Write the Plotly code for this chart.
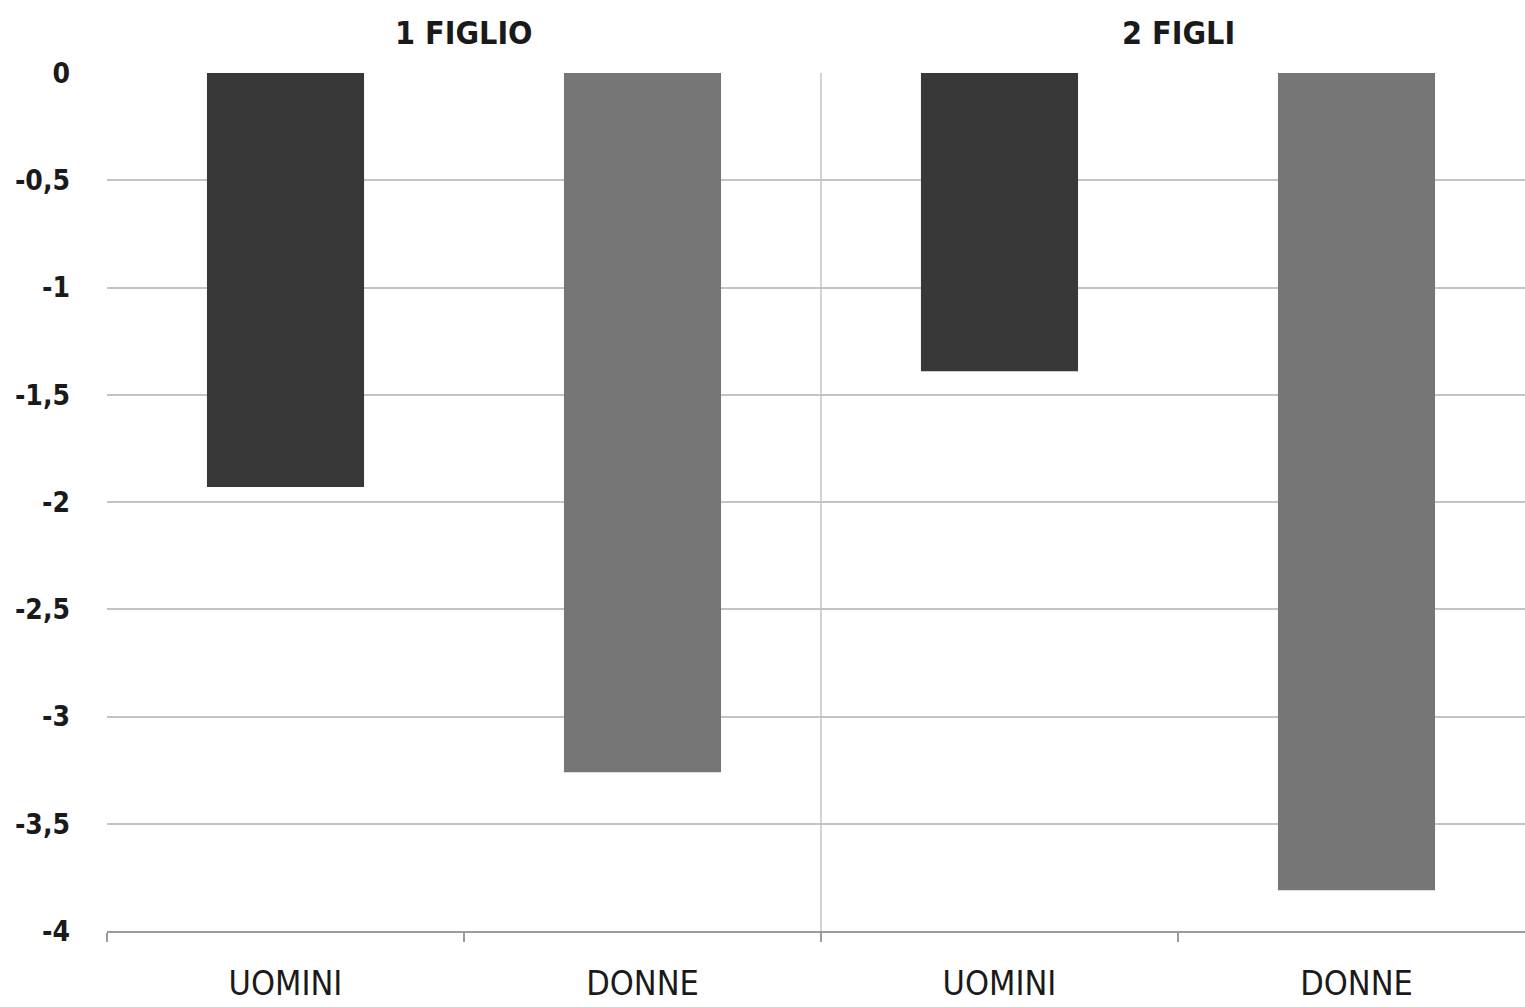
import plotly.graph_objects as go

# Variazione per numero di figli, uomini vs donne
groups = ["1 FIGLIO", "1 FIGLIO", "2 FIGLI", "2 FIGLI"]
sexes = ["UOMINI", "DONNE", "UOMINI", "DONNE"]
values = [-1.93, -3.26, -1.39, -3.81]
bar_colors = ["#383838", "#767676", "#383838", "#767676"]

y_ticks = [0, -0.5, -1, -1.5, -2, -2.5, -3, -3.5, -4]
y_tick_labels = ["0", "-0,5", "-1", "-1,5", "-2", "-2,5", "-3", "-3,5", "-4"]

cat_keys = [f"{g} {s}" for g, s in zip(groups, sexes)]

FONT = "Liberation Sans Narrow, DejaVu Sans Condensed, Arial Narrow, Roboto, sans-serif"
GRID = "#c4c4c4"

fig = go.Figure(
    go.Bar(
        x=cat_keys,
        y=values,
        width=0.44,
        marker=dict(color=bar_colors, line=dict(width=0)),
        hoverinfo="skip",
    )
)

fig.update_layout(
    width=1525,
    height=1007,
    margin=dict(l=107, r=0, t=73, b=76),
    paper_bgcolor="white",
    plot_bgcolor="white",
    showlegend=False,
    font=dict(family=FONT, color="#1a1a1a"),
    xaxis=dict(
        type="category",
        range=[-0.5, 3.472],
        tickvals=cat_keys,
        ticktext=sexes,
        tickson="boundaries",
        ticks="outside",
        ticklen=9,
        tickcolor="#9a9a9a",
        tickwidth=1.5,
        showline=True,
        linecolor="#9a9a9a",
        linewidth=1.5,
        showgrid=False,
        tickfont=dict(family=FONT, size=34, color="#1a1a1a"),
        ticklabelstandoff=21,
    ),
    yaxis=dict(
        range=[-4, 0],
        tickvals=y_ticks,
        ticktext=y_tick_labels,
        showgrid=True,
        gridcolor=GRID,
        gridwidth=1.5,
        zeroline=False,
        showline=False,
        ticks="",
        tickfont=dict(family=FONT, size=28, color="#1a1a1a", weight="bold"),
        ticklabelstandoff=36,
    ),
)

# separator between the two groups
fig.add_shape(
    type="line",
    xref="x", yref="paper",
    x0=1.5, x1=1.5, y0=-0.011, y1=1,
    line=dict(color=GRID, width=1.5),
    layer="below",
)

# group titles
for label, xc in [("1 FIGLIO", 0.5), ("2 FIGLI", 2.5)]:
    fig.add_annotation(
        x=xc, xref="x", y=1, yref="paper",
        yanchor="middle", yshift=40, showarrow=False,
        text=f"<b>{label}</b>",
        font=dict(family=FONT, size=32, color="#1a1a1a"),
    )

fig.write_html("out.html")
